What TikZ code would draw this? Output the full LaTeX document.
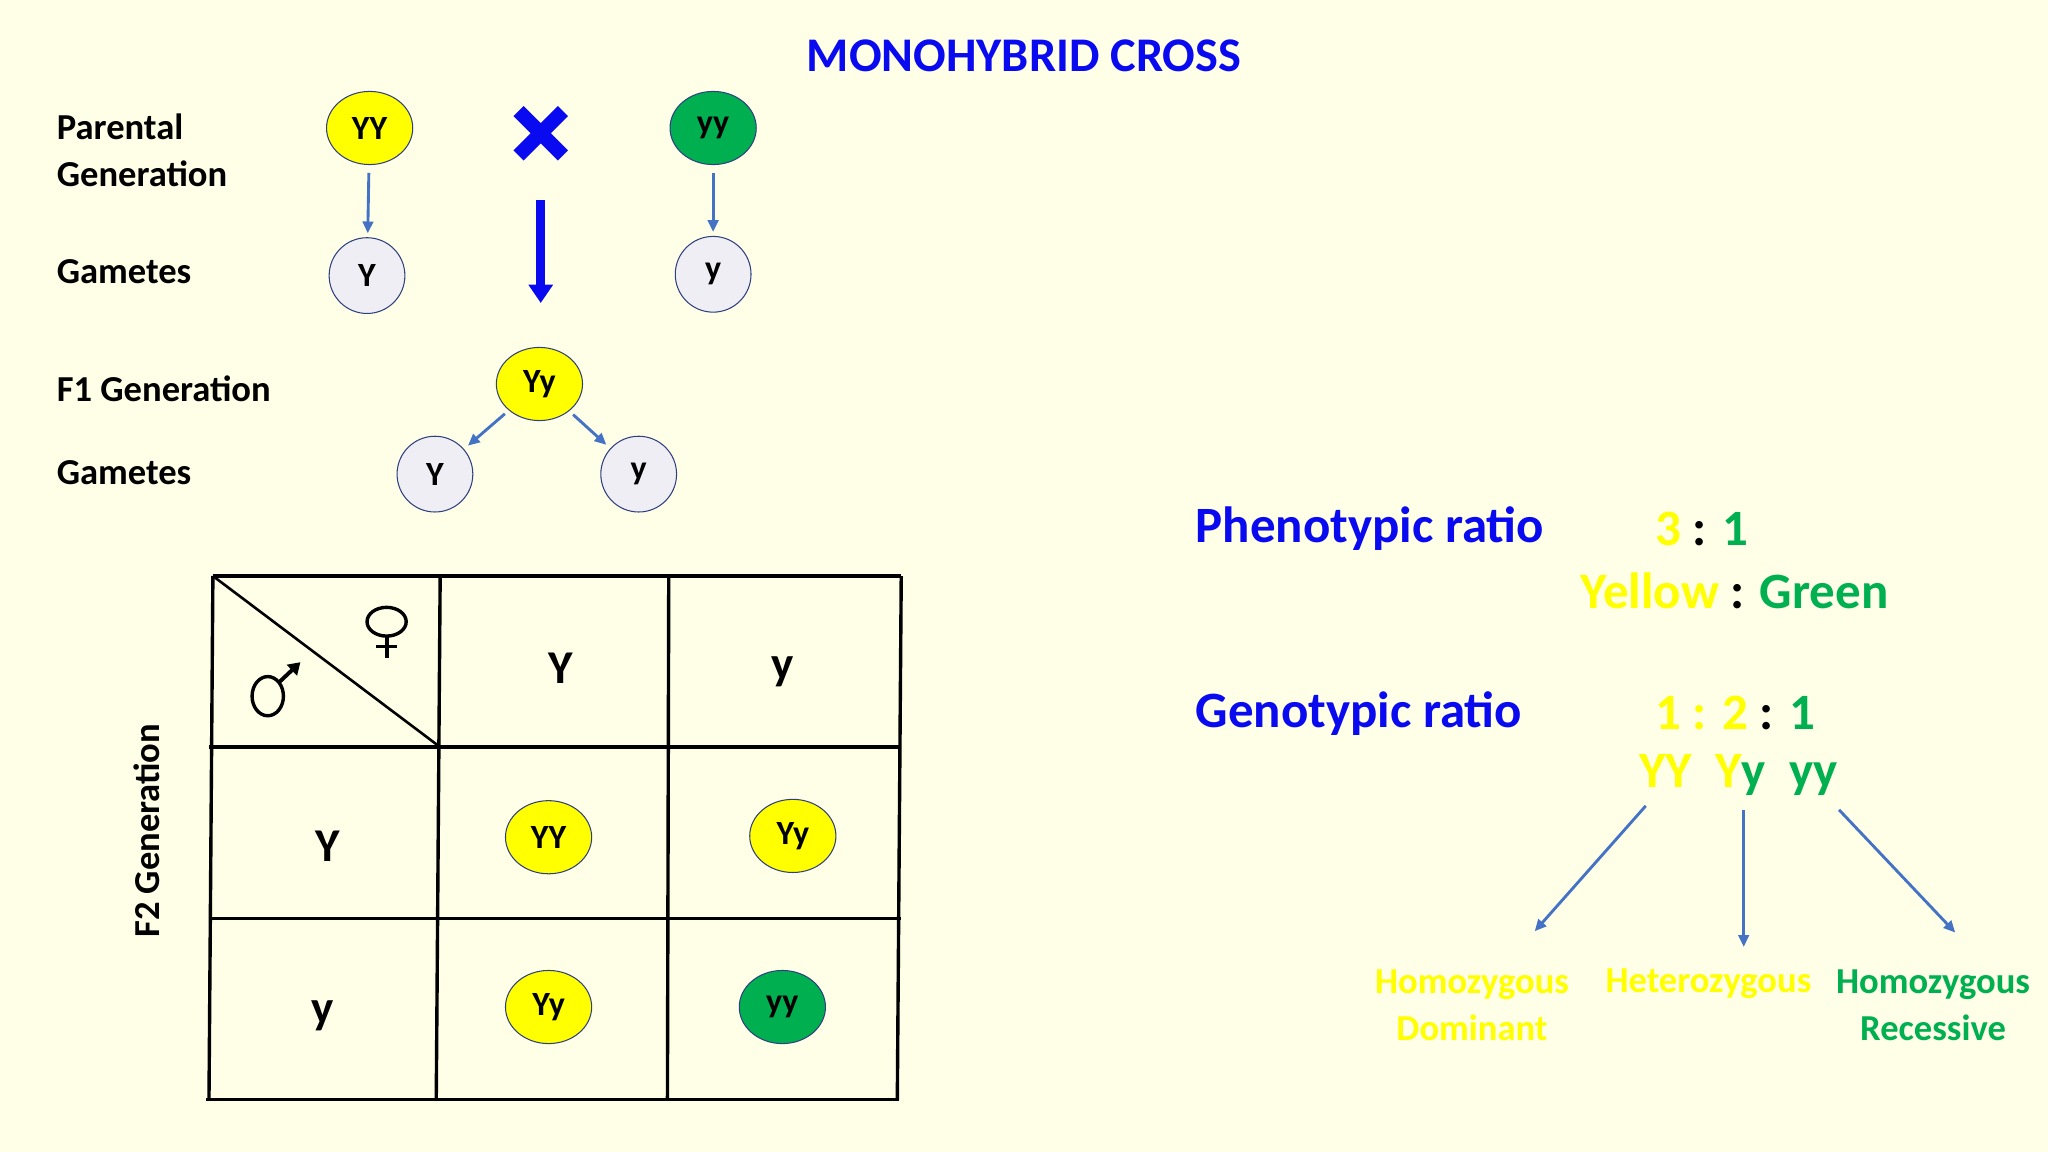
\documentclass[tikz,border=0pt]{standalone}
\usepackage{fontspec}
\setmainfont{Carlito}
\usetikzlibrary{arrows.meta,shapes.geometric}
\definecolor{bg}{HTML}{FFFFE8}
\definecolor{yel}{HTML}{FFFF00}
\definecolor{grn}{HTML}{00B050}
\definecolor{blu}{HTML}{0A0AF0}
\definecolor{arr}{HTML}{4472C4}
\definecolor{gam}{HTML}{EEEEF4}
\definecolor{bord}{HTML}{2F3F7F}
\begin{document}
\begin{tikzpicture}[x=1pt,y=-1pt,
  lab/.style={font=\fontsize{28}{36}\selectfont\bfseries,anchor=west,align=left},
  geno/.style={ellipse,draw=bord,thick,minimum width=66pt,minimum height=56pt,inner sep=0pt,font=\fontsize{26}{28}\selectfont\bfseries},
  yy/.style={geno,fill=yel},
  gg/.style={geno,fill=grn},
  gamete/.style={circle,draw=bord,thick,fill=gam,minimum size=58pt,inner sep=0pt,font=\fontsize{26}{28}\selectfont\bfseries},
  big/.style={font=\fontsize{39}{44}\selectfont\bfseries},
  cell/.style={font=\fontsize{36}{40}\selectfont\bfseries},
  sarr/.style={draw=arr,line width=2.2pt,-{Triangle[length=9pt,width=8pt]}},
  grid/.style={line width=2.6pt}]
\fill[bg] (0,0) rectangle (1568,882);
\useasboundingbox (0,0) rectangle (1568,882);
\node[big,text=blu,font=\fontsize{37}{44}\selectfont\bfseries] (title) at (784,43) {MONOHYBRID CROSS};
\node[lab] (pg) at (40,115) {Parental\\Generation};
\node[lab] (g1) at (40,208) {Gametes};
\node[lab] (f1) at (40,298) {F1 Generation};
\node[lab] (g2) at (40,362) {Gametes};
\node[yy] (pYY) at (283,98) {YY};
\node[gg] (pyy) at (546,98) {yy};
\coordinate (cross) at (414,102);
\draw[blu,line width=11pt] ([shift={(-17,-17)}]cross) -- ([shift={(17,17)}]cross) ([shift={(-17,17)}]cross) -- ([shift={(17,-17)}]cross);
\node[gamete] (gY) at (281,211) {Y};
\node[gamete] (gy) at (546,210) {y};
\draw[sarr,shorten <=6pt,shorten >=3pt] (pYY) -- (gY);
\draw[sarr,shorten <=6pt,shorten >=3pt] (pyy) -- (gy);
\coordinate (bs) at (414,153); \coordinate (be) at (414,232);
\draw[blu,line width=7pt,-{Triangle[length=14pt,width=18pt]}] (bs) -- (be);
\node[yy] (F1) at (413,294) {Yy};
\node[gamete] (hY) at (333,363) {Y};
\node[gamete] (hy) at (489,363) {y};
\draw[sarr,shorten <=4pt,shorten >=4pt] (F1) -- (hY);
\draw[sarr,shorten <=4pt,shorten >=4pt] (F1) -- (hy);
% Punnett
\draw[grid] (163,441) -- (690,441) (160,572) -- (690,572) (160,703) -- (690,703) (158,842) -- (688,842);
\draw[grid] (163,441) -- (160,842) (337,441) -- (334,842) (512,441) -- (511,842) (690,441) -- (687,842);
\draw[line width=2pt] (163,441) -- (337,572);
% male symbol
\draw[line width=2.6pt] (205,533) circle[x radius=12pt,y radius=15pt];
\draw[line width=3pt,-{Triangle[length=9pt,width=11pt]}] (213,523) -- (230,507);
% female symbol
\draw[line width=2.6pt] (296,476) circle[x radius=15pt,y radius=11pt];
\draw[line width=3pt] (296,487) -- (296,504) (288,495) -- (304,495);
\node[cell] (cY) at (429,512) {Y};
\node[cell] (cy) at (599,514) {y};
\node[cell] (rY) at (251,648) {Y};
\node[cell] (ry) at (247,778) {y};
\node[yy] (c1) at (420,641) {YY};
\node[yy] (c2) at (607,640) {Yy};
\node[yy] (c3) at (420,771) {Yy};
\node[gg] (c4) at (599,771) {yy};
\node[lab,rotate=90,anchor=center] (f2) at (112,636) {F2 Generation};
% right
\node[big,text=blu,anchor=west] (ph) at (912,405) {Phenotypic ratio};
\node[big,anchor=west] (r1) at (1264,405) {\textcolor{yel}{3} : \textcolor{grn}{1}};
\node[big] (r1b) at (1328,452) {\textcolor{yel}{Yellow} : \textcolor{grn}{Green}};
\node[big,text=blu,anchor=west] (gt) at (912,546) {Genotypic ratio};
\node[big,anchor=west] (r2) at (1264,546) {\textcolor{yel}{1 : 2} : \textcolor{grn}{1}};
\node[big] (r2b) at (1331,593) {\textcolor{yel}{YY\ \ Y}\textcolor{grn}{y\ \ yy}};
\coordinate (a1s) at (1260,617); \coordinate (a1e) at (1175,713);
\coordinate (a2s) at (1335,620); \coordinate (a2e) at (1335,725);
\coordinate (a3s) at (1408,620); \coordinate (a3e) at (1497,714);
\draw[sarr] (a1s) -- (a1e);
\draw[sarr] (a2s) -- (a2e);
\draw[sarr] (a3s) -- (a3e);
\node[lab,anchor=center,align=center,text=yel] (hd) at (1127,770) {Homozygous\\Dominant};
\node[lab,anchor=center,text=yel] (he) at (1308,753) {Heterozygous};
\node[lab,anchor=center,align=center,text=grn] (hr) at (1480,770) {Homozygous\\Recessive};
\end{tikzpicture}
\end{document}
